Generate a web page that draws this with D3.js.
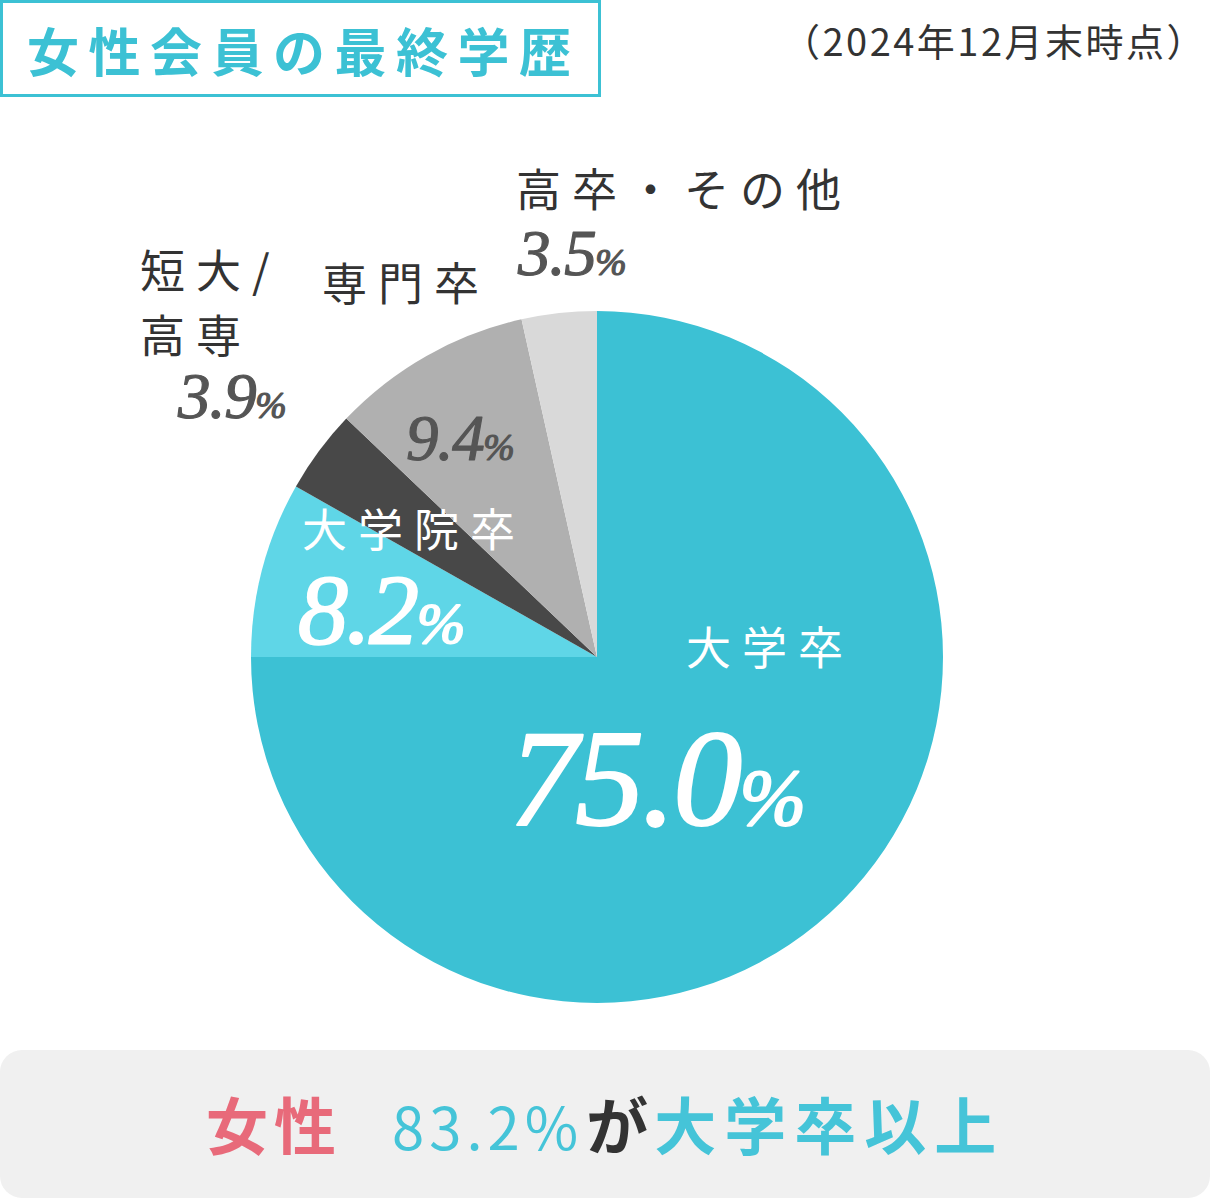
<!DOCTYPE html>
<html>
<head>
<meta charset="utf-8">
<script src="https://cdn.jsdelivr.net/npm/d3@7"></script>
<style>
  html, body { margin: 0; padding: 0; background: #fff; }
  svg { display: block; }
  .jp { font-family: "Noto Sans CJK JP", "Noto Sans", sans-serif; }
  .num { font-family: "Liberation Serif", "DejaVu Serif", serif; font-style: italic; }
</style>
</head>
<body>
<div id="chart"></div>
<script>
// data
const categories = ["大学卒", "大学院卒", "短大/高専", "専門卒", "高卒・その他"];
const values = [75.0, 8.2, 3.9, 9.4, 3.5];
const colors = ["#3cc1d4", "#5fd6e7", "#484848", "#b0b0b0", "#d9d9d9"];

const width = 1210, height = 1198;
const cx = 597, cy = 657, radius = 346;

const svg = d3.select("#chart").append("svg")
    .attr("width", width)
    .attr("height", height);

// title box
svg.append("rect")
    .attr("x", 1.5).attr("y", 1.5)
    .attr("width", 598).attr("height", 94)
    .attr("fill", "#fff")
    .attr("stroke", "#3cc1d4")
    .attr("stroke-width", 3);

svg.append("text")
    .attr("class", "jp")
    .attr("x", 27).attr("y", 72)
    .attr("font-size", 52)
    .attr("font-weight", "bold")
    .attr("letter-spacing", 9.5)
    .attr("fill", "#3cc1d4")
    .text("女性会員の最終学歴");

svg.append("text")
    .attr("class", "jp")
    .attr("x", 1207).attr("y", 56)
    .attr("text-anchor", "end")
    .attr("font-size", 38)
    .attr("letter-spacing", 2.5)
    .attr("fill", "#333")
    .text("（2024年12月末時点）");

// pie
const pie = d3.pie().sort(null).value(d => d.value);
const arc = d3.arc().innerRadius(0).outerRadius(radius);
const slices = pie(categories.map((c, i) => ({ name: c, value: values[i], color: colors[i] })));

const g = svg.append("g").attr("transform", `translate(${cx},${cy})`);
g.selectAll("path")
    .data(slices)
  .enter().append("path")
    .attr("d", arc)
    .attr("fill", d => d.data.color);

// labels: name lines, percent, offsets from pie centre
const labels = [
  { lines: ["大学卒"], nx: 89, ny: 8, px: -88, py: 168, size: 138, fill: "#fff", pfill: "#fff" },
  { lines: ["大学院卒"], nx: -295, ny: -110, px: -299, py: -14, size: 100, fill: "#fff", pfill: "#fff" },
  { lines: ["短大/", "高専"], nx: -457, ny: -369, px: -419, py: -239, size: 65, fill: "#333", pfill: "#555" },
  { lines: ["専門卒"], nx: -275, ny: -356, px: -191, py: -197, size: 65, fill: "#333", pfill: "#555" },
  { lines: ["高卒・その他"], nx: -81, ny: -450, px: -79, py: -382, size: 65, fill: "#333", pfill: "#555" }
];

labels.forEach((l, i) => {
  const t = g.append("text")
      .attr("class", "jp")
      .attr("font-size", 45)
      .attr("letter-spacing", 11)
      .attr("fill", l.fill);
  l.lines.forEach((line, j) => {
    t.append("tspan")
        .attr("x", l.nx)
        .attr("y", l.ny + j * 65)
        .text(line);
  });

  const p = g.append("text")
      .attr("class", "num")
      .attr("x", l.px).attr("y", l.py)
      .attr("font-size", l.size)
      .attr("letter-spacing", -l.size * 0.02)
      .attr("fill", l.pfill)
      .attr("stroke", l.pfill)
      .attr("stroke-width", l.size > 90 ? 2 : 1.2)
      .attr("stroke-linejoin", "round");
  p.append("tspan").text(d3.format(".1f")(values[i]));
  p.append("tspan").attr("font-size", l.size * 0.58).text("%");
});

// summary banner
svg.append("rect")
    .attr("x", 0).attr("y", 1050)
    .attr("width", 1210).attr("height", 148)
    .attr("rx", 22)
    .attr("fill", "#f0f0f0");

const summary = svg.append("text")
    .attr("class", "jp")
    .attr("x", 206).attr("y", 1150)
    .attr("font-size", 62);
summary.append("tspan").attr("fill", "#e86a7a").attr("font-weight", "bold").attr("letter-spacing", 6).text("女性");
summary.append("tspan").attr("dx", 50).attr("fill", "#45c4d8").attr("letter-spacing", 5).attr("font-size", 58)
    .text(d3.format(".1f")(values[0] + values[1]) + "%");
summary.append("tspan").attr("dx", 3).attr("fill", "#333").attr("font-weight", "bold").attr("letter-spacing", 6).text("が");
summary.append("tspan").attr("fill", "#45c4d8").attr("font-weight", "bold").attr("letter-spacing", 8).text("大学卒以上");
</script>
</body>
</html>
